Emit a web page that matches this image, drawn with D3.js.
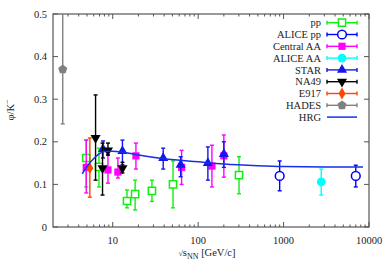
<!DOCTYPE html>
<html>
<head>
<meta charset="utf-8">
<script src="https://cdn.jsdelivr.net/npm/d3@7"></script>
<style>
  body { margin: 0; background: #fff; }
  svg { font-family: "Liberation Serif", "Times New Roman", serif; }
</style>
</head>
<body>
<svg id="chart" width="389" height="273"></svg>
<script>
// data: sqrt(s) [GeV], phi/K- value, lower and upper error bar ends
const ppX = [4.9, 6.9, 14.7, 18.3, 28.8, 50.8, 301];
const ppY = [0.162, 0.141, 0.061, 0.077, 0.085, 0.100, 0.122];
const ppLo = [0.094, 0.094, 0.045, 0.040, 0.060, 0.045, 0.078];
const ppHi = [0.204, 0.185, 0.087, 0.110, 0.110, 0.155, 0.165];

const alicePpX = [900, 7000];
const alicePpY = [0.120, 0.120];
const alicePpLo = [0.085, 0.094];
const alicePpHi = [0.155, 0.145];

const centralX = [4.9, 8.8, 11.5, 18.7, 64, 145, 200];
const centralY = [0.140, 0.134, 0.129, 0.167, 0.140, 0.143, 0.167];
const centralLo = [0.080, 0.103, 0.115, 0.136, 0.100, 0.094, 0.117];
const centralHi = [0.204, 0.169, 0.162, 0.197, 0.180, 0.192, 0.216];

const aliceAaX = [2760];
const aliceAaY = [0.106];
const aliceAaLo = [0.075];
const aliceAaHi = [0.136];

const starX = [7.7, 13, 39, 62.4, 130, 200];
const starY = [0.183, 0.178, 0.162, 0.146, 0.150, 0.171];
const starLo = [0.162, 0.146, 0.136, 0.118, 0.110, 0.140];
const starHi = [0.202, 0.204, 0.185, 0.165, 0.188, 0.200];

const na49X = [6.3, 7.6, 8.8, 13.0];
const na49Y = [0.209, 0.138, 0.180, 0.138];
const na49Lo = [0.110, 0.075, 0.169, 0.127];
const na49Hi = [0.310, 0.197, 0.197, 0.152];

const e917X = [5.4];
const e917Y = [0.138];
const e917Lo = [0.070];
const e917Hi = [0.209];

const hadesX = [2.6];
const hadesY = [0.370];
const hadesLo = [0.242];
const hadesHi = [0.520];

const hrgX = [4.4, 5, 6, 7, 8, 10, 13, 20, 40, 100, 200, 500, 1000, 3000, 8500];
const hrgY = [0.125, 0.142, 0.161, 0.172, 0.177, 0.178, 0.176, 0.169, 0.160, 0.153, 0.148, 0.144, 0.142, 0.141, 0.141];

const yTicks = [0, 0.1, 0.2, 0.3, 0.4, 0.5];
const xTicks = [10, 100, 1000, 10000];

const MARGIN = { top: 14, right: 20, bottom: 46, left: 53 };
const width = 389, height = 273;
const boundsWidth = width - MARGIN.left - MARGIN.right;
const boundsHeight = height - MARGIN.top - MARGIN.bottom;

const svg = d3.select("#chart");

const xScale = d3.scaleLog().domain([2, 10000]).range([0, boundsWidth]);
const yScale = d3.scaleLinear().domain([0, 0.5]).range([boundsHeight, 0]);

const g = svg.append("g").attr("transform", `translate(${MARGIN.left},${MARGIN.top})`);

svg.append("defs").append("clipPath").attr("id", "clip")
  .append("rect").attr("width", boundsWidth).attr("height", boundsHeight);

// frame and ticks
const axisColor = "#555";
g.append("rect")
  .attr("width", boundsWidth).attr("height", boundsHeight)
  .attr("fill", "none").attr("stroke", axisColor).attr("stroke-width", 1.2);

// minor x ticks 2..9 per decade
const minorX = [];
for (let dec = 1; dec <= 1000; dec *= 10) {
  for (let m = 1; m <= 9; m++) {
    const v = m * dec;
    if (v > 2 && v <= 10000 && m !== 1) minorX.push(v);
  }
}
const ticks = g.append("g").attr("stroke", axisColor).attr("stroke-width", 1);
minorX.forEach((v) => {
  ticks.append("line").attr("x1", xScale(v)).attr("x2", xScale(v))
    .attr("y1", boundsHeight).attr("y2", boundsHeight - 2.5);
  ticks.append("line").attr("x1", xScale(v)).attr("x2", xScale(v))
    .attr("y1", 0).attr("y2", 2.5);
});
xTicks.forEach((v) => {
  ticks.append("line").attr("x1", xScale(v)).attr("x2", xScale(v))
    .attr("y1", boundsHeight).attr("y2", boundsHeight - 5);
  ticks.append("line").attr("x1", xScale(v)).attr("x2", xScale(v))
    .attr("y1", 0).attr("y2", 5);
});
yTicks.forEach((v) => {
  ticks.append("line").attr("x1", 0).attr("x2", 5)
    .attr("y1", yScale(v)).attr("y2", yScale(v));
  ticks.append("line").attr("x1", boundsWidth).attr("x2", boundsWidth - 5)
    .attr("y1", yScale(v)).attr("y2", yScale(v));
});

// tick labels
g.selectAll(".ylab").data(yTicks).join("text")
  .attr("x", -6).attr("y", (d) => yScale(d) + 3.5)
  .attr("text-anchor", "end").attr("font-size", 10.5).attr("fill", "#222")
  .text((d) => (d === 0 ? "0" : d3.format(".1f")(d)));
g.selectAll(".xlab").data(xTicks).join("text")
  .attr("x", (d) => xScale(d)).attr("y", boundsHeight + 17)
  .attr("text-anchor", "middle").attr("font-size", 10.5).attr("fill", "#222")
  .text((d) => d);

// axis titles
const xTitle = svg.append("text")
  .attr("x", 207).attr("y", 256).attr("text-anchor", "middle")
  .attr("font-size", 10.5).attr("fill", "#222");
xTitle.append("tspan").attr("font-size", 8).text("√");
xTitle.append("tspan").text("s");
xTitle.append("tspan").attr("font-size", 8).attr("dy", 3).text("NN");
xTitle.append("tspan").attr("dy", -3).text(" [GeV/c]");

const yTitle = svg.append("text")
  .attr("transform", "translate(14,110) rotate(-90)")
  .attr("text-anchor", "middle").attr("font-size", 10.5).attr("fill", "#222");
yTitle.append("tspan").text("φ/K");
yTitle.append("tspan").attr("font-size", 8).attr("dy", -4).text("−");

// marker shapes
const sym = {
  square: d3.symbol().type(d3.symbolSquare).size(52),
  circle: d3.symbol().type(d3.symbolCircle).size(60),
  triUp: d3.symbol().type(d3.symbolTriangle).size(44),
  diamond: d3.symbol().type(d3.symbolDiamond).size(40),
};

function pentagon(r) {
  const pts = d3.range(5).map((i) => {
    const a = -Math.PI / 2 + (i * 2 * Math.PI) / 5;
    return [r * Math.cos(a), r * Math.sin(a)];
  });
  return "M" + pts.map((p) => p.join(",")).join("L") + "Z";
}

const series = [
  { name: "pp", x: ppX, y: ppY, lo: ppLo, hi: ppHi, color: "#11ee11", shape: "square", fill: false },
  { name: "ALICE pp", x: alicePpX, y: alicePpY, lo: alicePpLo, hi: alicePpHi, color: "#0000ff", shape: "circle", fill: false },
  { name: "Central AA", x: centralX, y: centralY, lo: centralLo, hi: centralHi, color: "#ff00ff", shape: "square", fill: true },
  { name: "ALICE AA", x: aliceAaX, y: aliceAaY, lo: aliceAaLo, hi: aliceAaHi, color: "#00ffff", shape: "circle", fill: true },
  { name: "STAR", x: starX, y: starY, lo: starLo, hi: starHi, color: "#1515ee", shape: "triUp", fill: true },
  { name: "NA49", x: na49X, y: na49Y, lo: na49Lo, hi: na49Hi, color: "#000000", shape: "triDown", fill: true },
  { name: "E917", x: e917X, y: e917Y, lo: e917Lo, hi: e917Hi, color: "#ff4500", shape: "diamond", fill: true },
  { name: "HADES", x: hadesX, y: hadesY, lo: hadesLo, hi: hadesHi, color: "#808080", shape: "pentagon", fill: true },
];

function markerPath(shape) {
  if (shape === "pentagon") return pentagon(4.8);
  if (shape === "triDown") return sym.triUp();
  return sym[shape]();
}

function drawMarker(sel, s, cx, cy) {
  const p = sel.append("path")
    .attr("d", markerPath(s.shape))
    .attr("transform", `translate(${cx},${cy})${s.shape === "triDown" ? " rotate(180)" : ""}`);
  if (s.fill) p.attr("fill", s.color).attr("stroke", "none");
  else p.attr("fill", "#fff").attr("stroke", s.color).attr("stroke-width", 1.5);
}

const plot = g.append("g").attr("clip-path", "url(#clip)");

// draw series in order so later ones sit on top
series.forEach((s) => {
  const layer = plot.append("g");
  s.x.forEach((xv, i) => {
    const cx = xScale(xv);
    layer.append("line")
      .attr("x1", cx).attr("x2", cx)
      .attr("y1", yScale(s.lo[i])).attr("y2", yScale(s.hi[i]))
      .attr("stroke", s.color).attr("stroke-width", 1.4);
    [s.lo[i], s.hi[i]].forEach((v) => {
      layer.append("line")
        .attr("x1", cx - 2).attr("x2", cx + 2)
        .attr("y1", yScale(v)).attr("y2", yScale(v))
        .attr("stroke", s.color).attr("stroke-width", 1.4);
    });
    drawMarker(layer, s, cx, yScale(s.y[i]));
  });
});

// HRG curve
const hrg = hrgX.map((v, i) => ({ x: v, y: hrgY[i] }));
plot.append("path")
  .datum(hrg)
  .attr("fill", "none").attr("stroke", "#1530e8").attr("stroke-width", 1.5)
  .attr("d", d3.line().curve(d3.curveMonotoneX).x((d) => xScale(d.x)).y((d) => yScale(d.y)));

// legend
const legend = svg.append("g");
const legendNames = series.map((s) => s.name).concat(["HRG"]);
legendNames.forEach((name, i) => {
  const ly = 22.7 + i * 11.8;
  legend.append("text")
    .attr("x", 321).attr("y", ly + 3.6).attr("text-anchor", "end")
    .attr("font-size", 10.5).attr("fill", "#222").text(name);
  if (name === "HRG") {
    legend.append("line").attr("x1", 327).attr("x2", 357)
      .attr("y1", ly).attr("y2", ly)
      .attr("stroke", "#1530e8").attr("stroke-width", 1.5);
    return;
  }
  const s = series[i];
  legend.append("line").attr("x1", 327).attr("x2", 357)
    .attr("y1", ly).attr("y2", ly).attr("stroke", s.color).attr("stroke-width", 1.4);
  [327, 357].forEach((xx) => {
    legend.append("line").attr("x1", xx).attr("x2", xx)
      .attr("y1", ly - 2).attr("y2", ly + 2).attr("stroke", s.color).attr("stroke-width", 1.4);
  });
  drawMarker(legend, s, 342, ly);
});
</script>
</body>
</html>
